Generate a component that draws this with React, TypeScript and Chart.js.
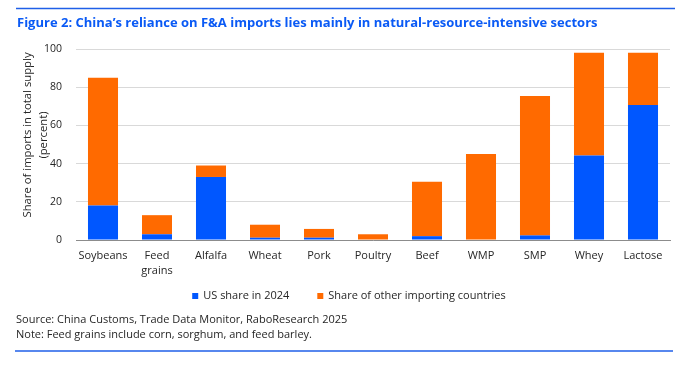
import React, { useEffect, useRef } from 'react';
import { Chart, registerables } from 'chart.js';

Chart.register(...registerables);

const categories: (string | string[])[] = ['Soybeans', ['Feed', 'grains'], 'Alfalfa', 'Wheat', 'Pork', 'Poultry', 'Beef', 'WMP', 'SMP', 'Whey', 'Lactose'];
const usShare = [18, 3, 33, 1.2, 1.2, 0, 2, 0, 2.4, 44.3, 70.7];
const otherShare = [67, 10, 6, 6.8, 4.6, 3, 28.5, 45, 73, 53.7, 27.3];
const seriesNames = ['US share in 2024', 'Share of other importing countries'];
const seriesColors = ['#0057ff', '#ff6a00'];
const yMin = 0;
const yMax = 100;
const yStep = 20;
const titleText = 'Figure 2: China\u2019s reliance on F&A imports lies mainly in natural-resource-intensive sectors';
const yTitleLines = ['Share of imports in total supply', '(percent)'];
const footerLines = ['Source: China Customs, Trade Data Monitor, RaboResearch 2025', 'Note: Feed grains include corn, sorghum, and feed barley.'];

const FONT = '"Open Sans", "Noto Sans", sans-serif';
const TEXT = '#262626';
const BLUE_LINE = '#1f5fe8';

const decorPlugin = {
  id: 'decor',
  afterDraw(chart: any) {
    const ctx = chart.ctx as CanvasRenderingContext2D;
    ctx.save();
    // top rule
    ctx.strokeStyle = BLUE_LINE;
    ctx.lineWidth = 1.5;
    ctx.beginPath();
    ctx.moveTo(16, 8.5);
    ctx.lineTo(675, 8.5);
    ctx.stroke();
    // title
    ctx.fillStyle = '#0a5af5';
    ctx.font = `bold 13px ${FONT}`;
    ctx.textAlign = 'left';
    ctx.textBaseline = 'alphabetic';
    ctx.fillText(titleText, 17, 27);
    // y title
    ctx.fillStyle = TEXT;
    ctx.font = `11.3px ${FONT}`;
    ctx.textAlign = 'center';
    ctx.textBaseline = 'middle';
    const cy = 135;
    const xs = [28, 44];
    yTitleLines.forEach((line, i) => {
      ctx.save();
      ctx.translate(xs[i], cy);
      ctx.rotate(-Math.PI / 2);
      ctx.fillText(line, 0, 0);
      ctx.restore();
    });
    // legend
    ctx.font = `11px ${FONT}`;
    ctx.textAlign = 'left';
    const ds = chart.data.datasets;
    const box = 6;
    const gapBoxText = 5;
    const gapItems = 28;
    const widths = ds.map((d: any) => box + gapBoxText + ctx.measureText(d.label).width);
    const total = widths.reduce((a: number, b: number) => a + b, 0) + gapItems * (ds.length - 1);
    let lx = 349 - total / 2;
    const ly = 296;
    ds.forEach((d: any, i: number) => {
      ctx.fillStyle = d.backgroundColor;
      ctx.fillRect(lx, ly - box / 2, box, box);
      ctx.fillStyle = TEXT;
      ctx.fillText(d.label, lx + box + gapBoxText, ly);
      lx += widths[i] + gapItems;
    });
    // footer
    ctx.textBaseline = 'alphabetic';
    ctx.font = `11px ${FONT}`;
    ctx.fillStyle = TEXT;
    ctx.fillText(footerLines[0], 16, 323);
    ctx.fillText(footerLines[1], 16, 338);
    // bottom rule
    ctx.strokeStyle = BLUE_LINE;
    ctx.lineWidth = 1.5;
    ctx.beginPath();
    ctx.moveTo(15, 351);
    ctx.lineTo(673, 351);
    ctx.stroke();
    ctx.restore();
  },
};

export default function App() {
  const ref = useRef<HTMLCanvasElement | null>(null);
  useEffect(() => {
    if (!ref.current) return;
    const chart = new Chart(ref.current, {
      type: 'bar',
      data: {
        labels: categories as any,
        datasets: [
          { label: seriesNames[0], data: usShare, backgroundColor: seriesColors[0], borderWidth: 0 },
          { label: seriesNames[1], data: otherShare, backgroundColor: seriesColors[1], borderWidth: 0 },
        ],
      },
      options: {
        responsive: false,
        animation: false,
        devicePixelRatio: 1,
        layout: { padding: { left: 0, top: 49, right: 14, bottom: 88 } },
        datasets: { bar: { categoryPercentage: 1, barPercentage: 0.556 } },
        plugins: {
          legend: { display: false },
          title: { display: false },
          tooltip: { enabled: false },
        },
        scales: {
          x: {
            stacked: true,
            grid: { display: false, drawTicks: false },
            border: { display: true, color: '#8c8c8c', width: 1 },
            ticks: {
              color: TEXT,
              font: { family: FONT, size: 11, lineHeight: 1.36 },
              padding: 8,
              maxRotation: 0,
              autoSkip: false,
            },
            afterFit: (s: any) => { s.height = 45; },
          },
          y: {
            stacked: true,
            min: yMin,
            max: yMax,
            grid: { color: '#d9d9d9', lineWidth: 1, drawTicks: false },
            border: { display: false },
            ticks: {
              stepSize: yStep,
              color: TEXT,
              font: { family: FONT, size: 10.5 },
              padding: 14,
            },
            afterFit: (s: any) => { s.width = 76; },
          },
        },
      },
      plugins: [decorPlugin],
    });
    return () => chart.destroy();
  }, []);
  return (
    <div style={{ position: 'fixed', left: 0, top: 0, width: 684, height: 373, background: '#fff' }}>
      <canvas ref={ref} width={684} height={373} style={{ width: 684, height: 373, display: 'block' }} />
    </div>
  );
}
